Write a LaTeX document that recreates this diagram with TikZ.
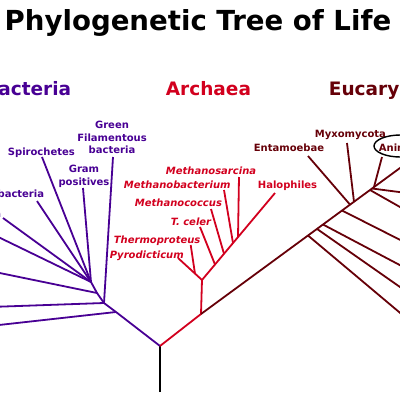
\documentclass[tikz,border=0pt]{standalone}
\usepackage{fontspec}
\setmainfont{DejaVu Sans}
\definecolor{bactcol}{RGB}{72,0,148}
\definecolor{archcol}{RGB}{210,0,30}
\definecolor{eucacol}{RGB}{102,0,8}

\begin{document}
\begin{tikzpicture}[x=1pt, y=-1pt, line width=1.8pt, line join=round,
	every node/.style={inner sep=0pt, font=\bfseries\fontsize{10}{12.8}\selectfont},
	bac/.style={draw=bactcol, text=bactcol},
	arc/.style={draw=archcol, text=archcol},
	euc/.style={draw=eucacol, text=eucacol},
	grouptitle/.style={font=\bfseries\fontsize{18.5}{20}\selectfont}]
	\useasboundingbox (0, 0) rectangle (400, 400);
	\clip (0, 0) rectangle (400, 400);

	\node [anchor=base, font=\bfseries\fontsize{27.6}{30}\selectfont] (title) at (198, 30) {Phylogenetic Tree of Life};
	\node [grouptitle, text=bactcol, anchor=base east] (bact) at (72, 95) {Bacteria};
	\node [grouptitle, text=archcol, anchor=base west] (arch) at (165, 95) {Archaea};
	\node [grouptitle, text=eucacol, anchor=base west] (euca) at (328, 95) {Eucaryota};

	\coordinate (root) at (160, 392);
	\coordinate (lca) at (160, 346);
	\draw (root) -- (lca);

	\coordinate (b0) at (116, 312);
	\coordinate (b1) at (104, 303);
	\coordinate (b2) at (97, 293);
	\coordinate (b3) at (91, 282);
	\coordinate (bx0) at (-10, 326);
	\coordinate (bx1) at (-10, 307);
	\coordinate (bx2) at (-10, 271);
	\coordinate (bx3) at (-10, 233);
	\coordinate (cyanoend) at (3, 218);
	\coordinate (proteoend) at (37, 201);
	\coordinate (spiroend) at (42, 157);
	\coordinate (gramend) at (83, 188);
	\coordinate (greenend) at (113, 157);
	\draw [bac] (lca) -- (b0) -- (b1) -- (b2) -- (b3);
	\draw [bac] (b0) -- (bx0);
	\draw [bac] (b1) -- (bx1);
	\draw [bac] (b2) -- (bx2);
	\draw [bac] (b3) -- (bx3);
	\draw [bac] (b3) -- (cyanoend);
	\draw [bac] (b3) -- (proteoend);
	\draw [bac] (b3) -- (spiroend);
	\draw [bac] (b3) -- (gramend);
	\draw [bac] (b1) -- (greenend);
	\node [bac, draw=none, anchor=north, align=center] (green) at (112, 120) {Green\\Filamentous\\bacteria};
	\node [bac, draw=none, anchor=north, align=center] (gram) at (84, 164) {Gram\\positives};
	\node [bac, draw=none, anchor=base west] (spiro) at (7, 155) {Spirochetes};
	\node [bac, draw=none, anchor=base east] (proteo) at (45, 197) {Proteobacteria};
	\node [bac, draw=none, anchor=base east] (cyano) at (2, 217) {Cyanobacteria};

	\coordinate (a0) at (201, 314);
	\coordinate (a1) at (202, 280);
	\coordinate (a2) at (195, 273.7);
	\coordinate (a3) at (215, 264.5);
	\coordinate (a4) at (224, 253.8);
	\coordinate (a5) at (233, 243);
	\coordinate (a6) at (238, 237);
	\coordinate (pyroend) at (178, 258);
	\coordinate (tprotend) at (190.7, 245);
	\coordinate (tcelerend) at (200, 227);
	\coordinate (mcoccend) at (211, 209);
	\coordinate (mbactend) at (224, 190);
	\coordinate (msarcend) at (239, 177);
	\coordinate (haloend) at (275, 193);
	\draw [arc] (lca) -- (a0) -- (a1);
	\draw [arc] (a1) -- (pyroend);
	\draw [arc] (a2) -- (tprotend);
	\draw [arc] (a1) -- (haloend);
	\draw [arc] (a3) -- (tcelerend);
	\draw [arc] (a4) -- (mcoccend);
	\draw [arc] (a5) -- (mbactend);
	\draw [arc] (a6) -- (msarcend);
	\node [arc, draw=none, anchor=base west, font=\bfseries\itshape\fontsize{10}{12}\selectfont] (msarc) at (165, 174) {Methanosarcina};
	\node [arc, draw=none, anchor=base west, font=\bfseries\itshape\fontsize{10}{12}\selectfont] (mbact) at (123, 188) {Methanobacterium};
	\node [arc, draw=none, anchor=base west, font=\bfseries\itshape\fontsize{10}{12}\selectfont] (mcocc) at (134, 206) {Methanococcus};
	\node [arc, draw=none, anchor=base west, font=\bfseries\itshape\fontsize{10}{12}\selectfont] (tceler) at (170, 225) {T. celer};
	\node [arc, draw=none, anchor=base west, font=\bfseries\itshape\fontsize{10}{12}\selectfont] (tprot) at (113, 243) {Thermoproteus};
	\node [arc, draw=none, anchor=base west, font=\bfseries\itshape\fontsize{10}{12}\selectfont] (pyro) at (109, 258) {Pyrodicticum};
	\node [arc, draw=none, anchor=base west] (halo) at (257, 188) {Halophiles};

	\coordinate (e1) at (308, 235.5);
	\coordinate (e2) at (317, 228.9);
	\coordinate (e3) at (323, 224.5);
	\coordinate (e4) at (342, 210.5);
	\coordinate (e5) at (350, 204.6);
	\coordinate (e6) at (354, 201.7);
	\coordinate (e7) at (370, 190);
	\coordinate (e8) at (372, 188.5);
	\coordinate (e9) at (374, 187);
	\coordinate (etop) at (430, 146);
	\coordinate (ex1) at (430, 338);
	\coordinate (ex2) at (430, 308);
	\coordinate (ex3) at (430, 281);
	\coordinate (ex4) at (430, 255);
	\coordinate (ex7) at (430, 224);
	\coordinate (ex8) at (430, 196);
	\coordinate (entamend) at (308, 156);
	\coordinate (myxoend) at (347, 143);
	\coordinate (animend) at (382, 157);
	\draw [euc] (a0) -- (etop);
	\draw [euc] (e1) -- (ex1);
	\draw [euc] (e2) -- (ex2);
	\draw [euc] (e3) -- (ex3);
	\draw [euc] (e4) -- (ex4);
	\draw [euc] (e5) -- (entamend);
	\draw [euc] (e6) -- (myxoend);
	\draw [euc] (e7) -- (ex7);
	\draw [euc] (e8) -- (ex8);
	\draw [euc] (e9) -- (animend);
	\node [euc, draw=none, anchor=base west] (entam) at (253, 151) {Entamoebae};
	\node [euc, draw=none, anchor=base west] (myxo) at (314, 137) {Myxomycota};
	\node [euc, draw=none, anchor=base west] (anim) at (378, 151) {Animals};
	\draw [black, line width=1.4pt] (400.5, 146) ellipse (26.5 and 11);
\end{tikzpicture}
\end{document}
